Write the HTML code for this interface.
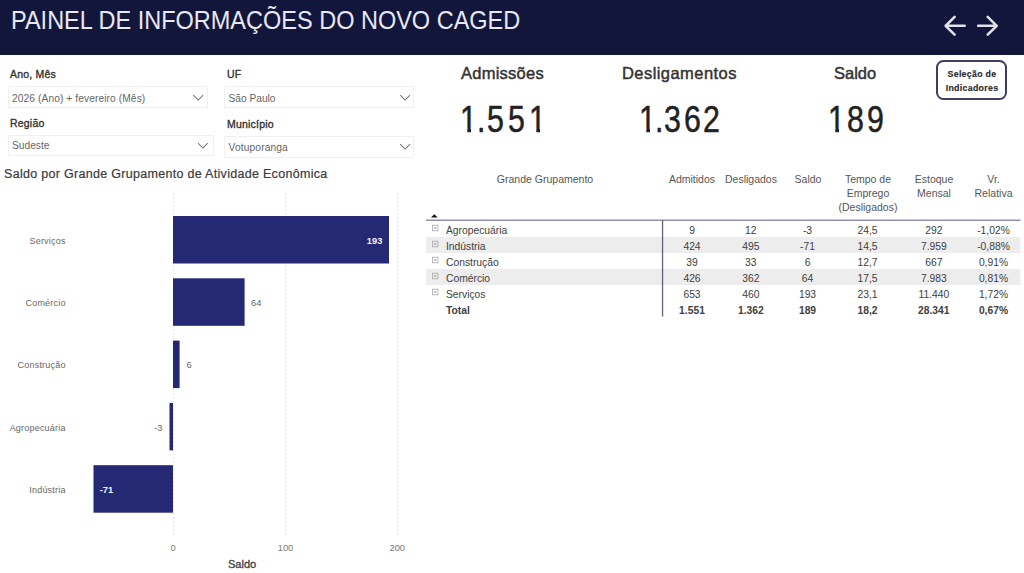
<!DOCTYPE html>
<html><head><meta charset="utf-8">
<style>
*{margin:0;padding:0;box-sizing:border-box}
html,body{width:1024px;height:573px;overflow:hidden;background:#fff}
body{position:relative;font-family:"Liberation Sans",sans-serif;color:#333}
.a{position:absolute;white-space:nowrap;line-height:1}
#hdr{position:absolute;left:0;top:0;width:1024px;height:55px;background:#13163b}
.lbl{font-size:10.5px;color:#333;-webkit-text-stroke:0.35px #333;letter-spacing:0.2px}
.box{position:absolute;border:1px solid #f0f0f0;background:#fff}
.val{font-size:10.2px;color:#666}
.kt{font-size:16.5px;color:#333;-webkit-text-stroke:0.45px #333}
.kv{font-size:36px;color:#222;-webkit-text-stroke:0.5px #222;transform:scaleX(0.843);transform-origin:0 0;top:101.6px}
.one{clip-path:polygon(0 0,100% 0,100% 27px,13.05px 27px,13.05px 100%,8.68px 100%,8.68px 27px,0 27px)}
.th{font-size:10.5px;color:#555;text-align:center;line-height:14px}
.td{font-size:10.3px;color:#404040;text-align:center}
.cat{font-size:9px;color:#666;text-align:right;letter-spacing:0.2px}
</style></head>
<body>
<div id="hdr"></div>
<div class="a" id="title" style="left:11px;top:7.6px;font-size:25px;color:#e8e8f2;transform:scaleX(0.94);transform-origin:0 0">PAINEL DE INFORMAÇÕES DO NOVO CAGED</div>
<svg class="a" style="left:940px;top:12px" width="64" height="30" viewBox="940 12 64 30">
 <g fill="none" stroke="#e2e2ec" stroke-width="2.6" stroke-linecap="round" stroke-linejoin="round">
  <path d="M964.7 25.8H945.6M954.6 16.9L945.6 25.8L954.6 34.7"/>
  <path d="M978.2 25.8H996.7M987.7 16.9L996.7 25.8L987.7 34.7"/>
 </g>
</svg>

<!-- slicers -->
<div class="a lbl" id="l1" style="left:10px;top:68.6px">Ano, Mês</div>
<div class="box" style="left:8px;top:86px;width:200px;height:22px"></div>
<div class="a val" id="v1" style="left:12px;top:93.8px;letter-spacing:0.1px">2026 (Ano) + fevereiro (Mês)</div>
<div class="a lbl" id="l2" style="left:10px;top:118.1px">Região</div>
<div class="box" style="left:8px;top:134.5px;width:206px;height:21.5px"></div>
<div class="a val" id="v2" style="left:12px;top:141px">Sudeste</div>
<div class="a lbl" id="l3" style="left:227px;top:68.6px">UF</div>
<div class="box" style="left:224px;top:86px;width:189.5px;height:21.5px"></div>
<div class="a val" id="v3" style="left:228.5px;top:93.8px">São Paulo</div>
<div class="a lbl" id="l4" style="left:227px;top:118.7px">Município</div>
<div class="box" style="left:224px;top:135.5px;width:189.5px;height:22px"></div>
<div class="a val" id="v4" style="left:228.5px;top:143.2px;letter-spacing:0.15px">Votuporanga</div>
<svg class="a" style="left:0;top:0" width="420" height="160">
 <g fill="none" stroke="#767676" stroke-width="1.05">
  <path d="M193.3 95.2l4.9 4.9l4.9-4.9"/>
  <path d="M198 143.2l4.9 4.9l4.9-4.9"/>
  <path d="M400.2 95.2l4.9 4.9l4.9-4.9"/>
  <path d="M400.2 144.2l4.9 4.9l4.9-4.9"/>
 </g>
</svg>

<!-- KPIs -->
<div class="a kt" id="k1" style="left:461px;top:64.5px;letter-spacing:0.25px">Admissões</div>
<div class="a kv one" style="left:460.0px">1</div><div class="a kv" style="left:476.6px">.</div><div class="a kv" style="left:486.95px">5</div><div class="a kv" style="left:508.2px">5</div><div class="a kv one" style="left:528.7px">1</div>
<div class="a kv one" style="left:638.6px">1</div><div class="a kv" style="left:655.3px">.</div><div class="a kv" style="left:664.25px">3</div><div class="a kv" style="left:683.9px">6</div><div class="a kv" style="left:703.05px">2</div>
<div class="a kv one" style="left:827.9px">1</div><div class="a kv" style="left:846.55px">8</div><div class="a kv" style="left:866.55px">9</div>
<div class="a kt" id="k2" style="left:622px;top:64.5px;letter-spacing:0.44px">Desligamentos</div>
<div class="a kt" id="k3" style="left:834px;top:64.5px">Saldo</div>
<div class="a" style="left:936.3px;top:60.4px;width:71px;height:39.2px;border:2px solid #3e3e62;border-radius:7.5px"></div>
<div class="a" id="btn1" style="left:936.5px;top:70px;width:71px;text-align:center;font-size:8.8px;font-weight:bold;color:#2b2b2b;letter-spacing:0.3px;-webkit-text-stroke:0.15px #2b2b2b">Seleção de</div>
<div class="a" id="btn2" style="left:936.5px;top:84.2px;width:71px;text-align:center;font-size:8.8px;font-weight:bold;color:#2b2b2b;letter-spacing:0.3px;-webkit-text-stroke:0.15px #2b2b2b">Indicadores</div>


<!-- table -->
<div class="a th" id="h0" style="left:480px;top:171.5px;width:130px">Grande Grupamento</div>
<div class="a th" id="h1" style="left:662px;top:171.5px;width:60px">Admitidos</div>
<div class="a th" id="h2" style="left:721px;top:171.5px;width:60px">Desligados</div>
<div class="a th" id="h3" style="left:782px;top:171.5px;width:52px">Saldo</div>
<div class="a th" id="h4" style="left:833px;top:171.5px;width:70px">Tempo de<br>Emprego<br>(Desligados)</div>
<div class="a th" id="h5" style="left:904px;top:171.5px;width:60px">Estoque<br>Mensal</div>
<div class="a th" id="h6" style="left:966px;top:171.5px;width:55px">Vr.<br>Relativa</div>
<svg class="a" style="left:0;top:0" width="1024" height="330">
 <path d="M431 217.4L434.3 214.3L437.6 217.4Z" fill="#111"/>
 <rect x="426" y="237" width="594.5" height="16" fill="#ededed"/>
 <rect x="426" y="269" width="594.5" height="16" fill="#ededed"/>
 <rect x="426" y="219.6" width="594.5" height="1.2" fill="#75758c"/>
 <rect x="661.9" y="220" width="1.3" height="96.5" fill="#62627c"/>
 <g fill="none" stroke="#a8a8a8" stroke-width="0.8" transform="translate(0,0.8)">
  <rect x="432.4" y="224.4" width="5.6" height="5.6"/><path d="M433.8 227.2h2.8M435.2 225.8v2.8"/>
  <rect x="432.4" y="240.4" width="5.6" height="5.6"/><path d="M433.8 243.2h2.8M435.2 241.8v2.8"/>
  <rect x="432.4" y="256.4" width="5.6" height="5.6"/><path d="M433.8 259.2h2.8M435.2 257.8v2.8"/>
  <rect x="432.4" y="272.4" width="5.6" height="5.6"/><path d="M433.8 275.2h2.8M435.2 273.8v2.8"/>
  <rect x="432.4" y="288.4" width="5.6" height="5.6"/><path d="M433.8 291.2h2.8M435.2 289.8v2.8"/>
 </g>
</svg>
<div class="a td" id="r0c" style="left:446px;top:225.8px;text-align:left">Agropecuária</div>
<div class="a td" style="left:662px;top:225.8px;width:60px">9</div>
<div class="a td" style="left:720.8px;top:225.8px;width:60px">12</div>
<div class="a td" style="left:777.5px;top:225.8px;width:60px">-3</div>
<div class="a td" style="left:837.5px;top:225.8px;width:60px">24,5</div>
<div class="a td" style="left:903.8px;top:225.8px;width:60px">292</div>
<div class="a td" style="left:963.5px;top:225.8px;width:60px">-1,02%</div>
<div class="a td" id="r1c" style="left:446px;top:241.8px;text-align:left">Indústria</div>
<div class="a td" style="left:662px;top:241.8px;width:60px">424</div>
<div class="a td" style="left:720.8px;top:241.8px;width:60px">495</div>
<div class="a td" style="left:777.5px;top:241.8px;width:60px">-71</div>
<div class="a td" style="left:837.5px;top:241.8px;width:60px">14,5</div>
<div class="a td" style="left:903.8px;top:241.8px;width:60px">7.959</div>
<div class="a td" style="left:963.5px;top:241.8px;width:60px">-0,88%</div>
<div class="a td" id="r2c" style="left:446px;top:257.9px;text-align:left">Construção</div>
<div class="a td" style="left:662px;top:257.9px;width:60px">39</div>
<div class="a td" style="left:720.8px;top:257.9px;width:60px">33</div>
<div class="a td" style="left:777.5px;top:257.9px;width:60px">6</div>
<div class="a td" style="left:837.5px;top:257.9px;width:60px">12,7</div>
<div class="a td" style="left:903.8px;top:257.9px;width:60px">667</div>
<div class="a td" style="left:963.5px;top:257.9px;width:60px">0,91%</div>
<div class="a td" id="r3c" style="left:446px;top:274.0px;text-align:left">Comércio</div>
<div class="a td" style="left:662px;top:274.0px;width:60px">426</div>
<div class="a td" style="left:720.8px;top:274.0px;width:60px">362</div>
<div class="a td" style="left:777.5px;top:274.0px;width:60px">64</div>
<div class="a td" style="left:837.5px;top:274.0px;width:60px">17,5</div>
<div class="a td" style="left:903.8px;top:274.0px;width:60px">7.983</div>
<div class="a td" style="left:963.5px;top:274.0px;width:60px">0,81%</div>
<div class="a td" id="r4c" style="left:446px;top:290.0px;text-align:left">Serviços</div>
<div class="a td" style="left:662px;top:290.0px;width:60px">653</div>
<div class="a td" style="left:720.8px;top:290.0px;width:60px">460</div>
<div class="a td" style="left:777.5px;top:290.0px;width:60px">193</div>
<div class="a td" style="left:837.5px;top:290.0px;width:60px">23,1</div>
<div class="a td" style="left:903.8px;top:290.0px;width:60px">11.440</div>
<div class="a td" style="left:963.5px;top:290.0px;width:60px">1,72%</div>
<div class="a td" id="r5c" style="left:446px;top:306.1px;text-align:left;font-weight:bold">Total</div>
<div class="a td" style="left:662px;top:306.1px;width:60px;font-weight:bold">1.551</div>
<div class="a td" style="left:720.8px;top:306.1px;width:60px;font-weight:bold">1.362</div>
<div class="a td" style="left:777.5px;top:306.1px;width:60px;font-weight:bold">189</div>
<div class="a td" style="left:837.5px;top:306.1px;width:60px;font-weight:bold">18,2</div>
<div class="a td" style="left:903.8px;top:306.1px;width:60px;font-weight:bold">28.341</div>
<div class="a td" style="left:963.5px;top:306.1px;width:60px;font-weight:bold">0,67%</div>

<!-- chart -->
<div class="a" id="ct" style="left:4px;top:167.6px;font-size:12.5px;color:#3a3a3a;letter-spacing:0.3px;-webkit-text-stroke:0.2px #3a3a3a">Saldo por Grande Grupamento de Atividade Econômica</div>
<svg class="a" style="left:0;top:0" width="420" height="573">
 <g stroke="#dedede" stroke-width="1" stroke-dasharray="1.5 2.5">
  <path d="M173.5 193V537M285.5 193V537M397.5 193V537"/>
 </g>
 <g fill="#252974">
  <rect x="173" y="216" width="216" height="47.5"/>
  <rect x="173" y="278.3" width="71.6" height="47.5"/>
  <rect x="173" y="340.6" width="6.6" height="47.5"/>
  <rect x="169.5" y="402.9" width="3.5" height="47.5"/>
  <rect x="93.5" y="465.2" width="79.5" height="47.5"/>
 </g>
</svg>
<div class="a cat" id="cat0" style="right:958.4px;top:236.8px">Serviços</div>
<div class="a cat" id="cat1" style="right:958.4px;top:299.1px">Comércio</div>
<div class="a cat" id="cat2" style="right:958.4px;top:361.4px">Construção</div>
<div class="a cat" id="cat3" style="right:958.4px;top:423.7px">Agropecuária</div>
<div class="a cat" id="cat4" style="right:958.4px;top:486.0px">Indústria</div>
<div class="a" id="dl0" style="right:641.7px;top:236.8px;font-size:9.3px;font-weight:bold;color:#f0f0f8">193</div>
<div class="a" id="dl1" style="left:251px;top:299.1px;font-size:9.3px;color:#666">64</div>
<div class="a" id="dl2" style="left:186.5px;top:361.4px;font-size:9.3px;color:#666">6</div>
<div class="a" id="dl3" style="right:861.6px;top:423.7px;font-size:9.3px;color:#666">-3</div>
<div class="a" id="dl4" style="left:99.7px;top:486.0px;font-size:9.3px;font-weight:bold;color:#f0f0f8">-71</div>
<div class="a" id="ax0" style="left:153px;width:40px;text-align:center;top:543.6px;font-size:9.3px;color:#777">0</div>
<div class="a" id="ax1" style="left:265.5px;width:40px;text-align:center;top:543.6px;font-size:9.3px;color:#777">100</div>
<div class="a" id="ax2" style="left:377.3px;width:40px;text-align:center;top:543.6px;font-size:9.3px;color:#777">200</div>
<div class="a" id="axt" style="left:228px;top:558.5px;font-size:11px;color:#444;-webkit-text-stroke:0.35px #444">Saldo</div>
</body></html>
